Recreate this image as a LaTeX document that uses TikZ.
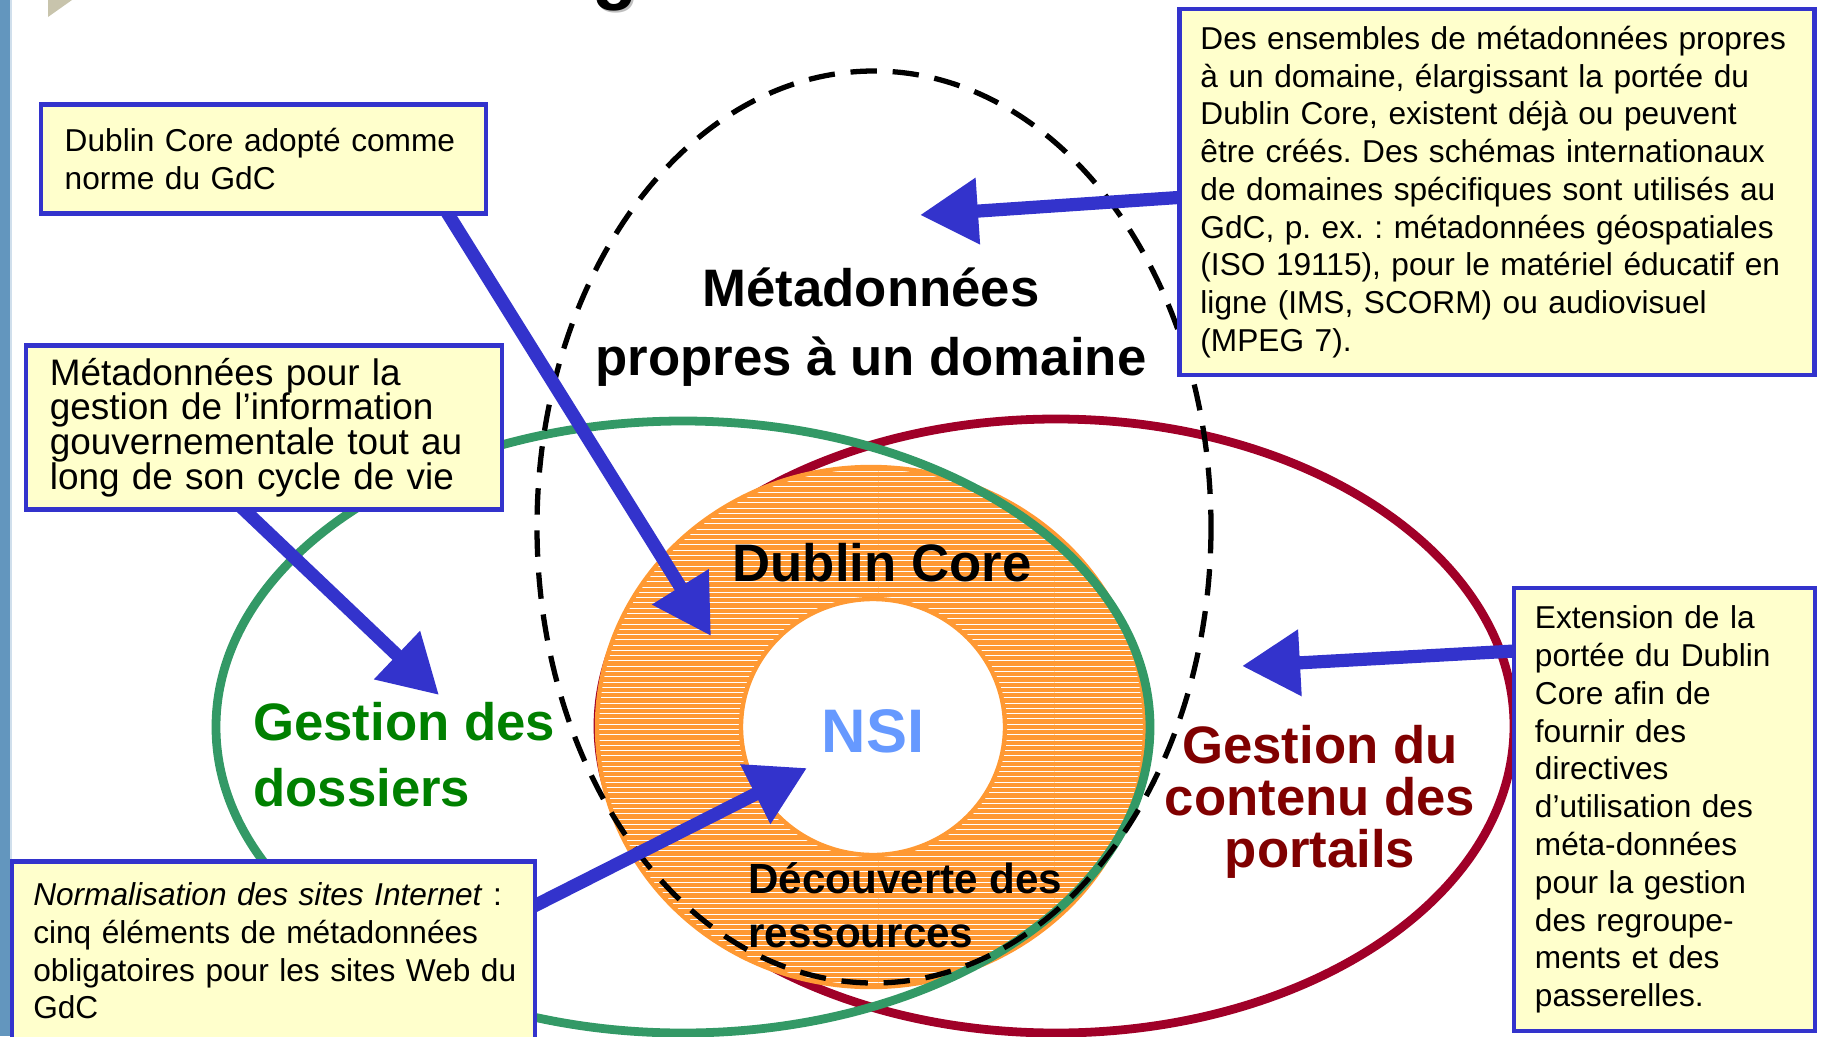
\documentclass[tikz,border=0pt]{standalone}
\usepackage{fontspec}
\setmainfont{Liberation Sans}
\usetikzlibrary{arrows.meta,patterns}
\usepackage{xcolor}
\frenchspacing

\definecolor{notefill}{RGB}{255,255,204}
\definecolor{noteblue}{RGB}{51,51,204}
\definecolor{ringorange}{RGB}{255,153,51}
\definecolor{recordsgreen}{RGB}{51,153,102}
\definecolor{recordstext}{RGB}{0,128,0}
\definecolor{portalred}{RGB}{160,0,40}
\definecolor{portaltext}{RGB}{128,0,0}
\definecolor{nsiblue}{RGB}{102,153,255}
\definecolor{stripblue}{RGB}{99,150,190}
\definecolor{slidegrey}{RGB}{200,196,172}

\pgfdeclarelayer{background}
\pgfdeclarelayer{arrows}
\pgfsetlayers{background,arrows,main}

\begin{document}
\begin{tikzpicture}[x=0.2mm, y=-0.2mm,
    note/.style={
        rectangle,
        draw=noteblue,
        line width=2.5pt,
        fill=notefill,
        align=left,
        inner xsep=12pt,
        inner ysep=0pt,
        font=\fontsize{18}{21.5}\selectfont
    },
    bigarrow/.style={
        draw=noteblue,
        line width=7.5pt,
        -{Triangle[length=33pt, width=36pt]},
        shorten <=-8pt
    },
    biglabel/.style={
        inner sep=0pt,
        font=\bfseries\fontsize{30}{38}\selectfont
    }
]
    \path[use as bounding box, clip] (0,0) rectangle (1825,1036);

    % slide remains
    \fill[stripblue] (0,0) rectangle (10,1036);
    \fill[stripblue!30] (10,0) rectangle (12,1036);
    \fill[slidegrey] (48,0) -- (72,0) -- (48,17) -- cycle;
    \node (title_shadow) [anchor=base, inner sep=0pt, text=black!25, font=\bfseries\fontsize{42}{42}\selectfont] at (617,-3) {g};
    \node (title) [anchor=base, inner sep=0pt, font=\bfseries\fontsize{42}{42}\selectfont] at (615,-5) {g};

    \begin{pgfonlayer}{background}
    \begin{scope}
        \clip (0,0) rectangle (1825,1036);
        \draw[portalred, line width=5pt] (1056,726) ellipse [x radius=458, y radius=307];
        \fill[ringorange, even odd rule] (871,727) ellipse [x radius=274, y radius=260] (873,727) ellipse [x radius=132, y radius=128];
        \fill[pattern=horizontal lines, pattern color=white, even odd rule] (871,727) ellipse [x radius=274, y radius=260] (873,727) ellipse [x radius=132, y radius=128];
        \draw[ringorange, line width=2.5pt] (871,727) ellipse [x radius=274, y radius=260];
        \draw[ringorange, line width=2.5pt] (873,727) ellipse [x radius=132, y radius=128];
        \draw[recordsgreen, line width=5pt] (683,727) ellipse [x radius=467, y radius=306];
        \draw[black, line width=3pt, dash pattern=on 15pt off 9pt] (874,527) ellipse [x radius=337, y radius=456];

        \node (domain_label) [biglabel, align=center, font=\bfseries\fontsize{30}{39}\selectfont] at (871,327)
        {
            Métadonnées\\propres à un domaine
        };
        \node (dublin_core_label) [biglabel] at (882,563)
        {
            Dublin Core
        };
        \node (nsi_label) [biglabel, text=nsiblue, font=\bfseries\fontsize{35}{40}\selectfont] at (873,731)
        {
            NSI
        };
        \node (discovery_label) [biglabel, anchor=west, align=left, font=\bfseries\fontsize{24}{31}\selectfont] at (748,905)
        {
            Découverte des\\ressources
        };
        \node (records_label) [biglabel, anchor=west, align=left, text=recordstext, font=\bfseries\fontsize{30}{37.5}\selectfont] at (253,755)
        {
            Gestion des\\dossiers
        };
        \node (portal_label) [biglabel, align=center, text=portaltext, font=\bfseries\fontsize{30}{29.5}\selectfont] at (1320,802)
        {
            Gestion du\\contenu des\\portails
        };
    \end{scope}
    \end{pgfonlayer}

    \node (adoption_note) [note, inner xsep=13.5pt, text width=226.2pt, minimum height=62.1pt] at (263.5,159)
    {
        Dublin Core adopté comme\\norme du GdC
    };
    \node (records_note) [note, inner xsep=13.5pt, text width=243.7pt, minimum height=93.3pt, font=\fontsize{21}{19.8}\selectfont] at (264,427.5)
    {
        Métadonnées pour la\\gestion de l’information\\gouvernementale tout au\\long de son cycle de vie
    };
    \node (web_note) [note, text width=273.4pt, minimum height=101.8pt] at (273.5,951)
    {
        \textit{Normalisation des sites Internet} :\\cinq éléments de métadonnées\\\mbox{obligatoires pour les sites Web du}\\GdC
    };
    \node (extension_note) [note, text width=147.5pt, minimum height=252pt] at (1664.5,809.5)
    {
        Extension de la\\portée du Dublin\\Core afin de\\fournir des\\directives\\d’utilisation des\\méta-données\\pour la gestion\\des regroupe-\\ments et des\\passerelles.
    };
    \node (domain_note) [note, text width=337.5pt, minimum height=208.4pt] at (1497,192)
    {
        Des ensembles de métadonnées propres\\à un domaine, élargissant la portée du\\Dublin Core, existent déjà ou peuvent\\être créés. Des schémas internationaux\\de domaines spécifiques sont utilisés au\\GdC, p. ex. : métadonnées géospatiales\\(ISO 19115), pour le matériel éducatif en\\ligne (IMS, SCORM) ou audiovisuel\\(MPEG 7).
    };

    \coordinate (adoption_tip) at (711,636);
    \coordinate (records_tip) at (439,695);
    \coordinate (web_tip) at (807,768);
    \coordinate (domain_tip) at (920,215);
    \coordinate (extension_tip) at (1242,666);

    \begin{pgfonlayer}{arrows}
        \draw[bigarrow] (adoption_note.-17.6) to (adoption_tip);
        \draw[bigarrow] (records_note.-102) to (records_tip);
        \draw[bigarrow] (web_note.10.5) to (web_tip);
        \draw[bigarrow] (domain_note.181.4) to (domain_tip);
        \draw[bigarrow] (extension_note.134.3) to (extension_tip);
    \end{pgfonlayer}
\end{tikzpicture}
\end{document}
